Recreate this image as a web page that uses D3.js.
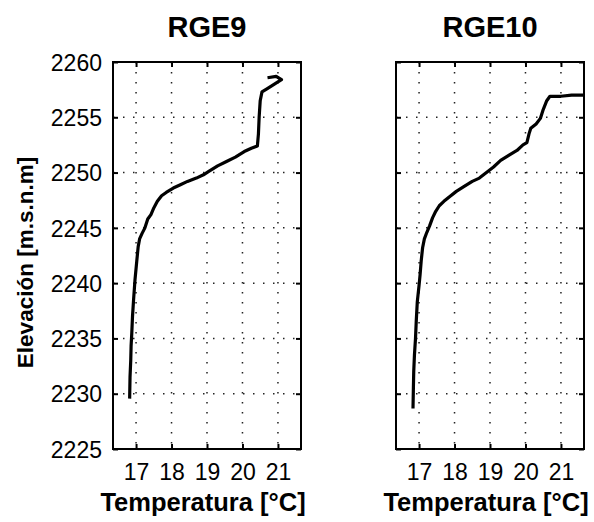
<!DOCTYPE html>
<html>
<head>
<meta charset="utf-8">
<script src="https://cdn.jsdelivr.net/npm/d3@7"></script>
<style>
  body { margin: 0; background: white; }
  text { font-family: "Liberation Sans", Arial, sans-serif; }
</style>
</head>
<body>
<div id="graf"></div>
<script>
// datos: [temperatura, elevacion]
const rge9 = [
  [16.82, 2229.7], [16.83, 2231.5], [16.85, 2233.0], [16.86, 2234.3],
  [16.88, 2235.5], [16.9, 2237.0], [16.93, 2238.5], [16.97, 2240.3],
  [17.02, 2242.0], [17.06, 2243.3], [17.1, 2244.0], [17.17, 2244.5],
  [17.25, 2245.0], [17.33, 2245.8], [17.42, 2246.2], [17.5, 2246.8],
  [17.6, 2247.4], [17.72, 2247.9], [17.85, 2248.2], [18.05, 2248.6],
  [18.25, 2248.9], [18.45, 2249.2], [18.7, 2249.5], [18.9, 2249.8],
  [19.05, 2250.1], [19.3, 2250.6], [19.55, 2251.0], [19.8, 2251.4],
  [20.05, 2251.9], [20.25, 2252.2], [20.42, 2252.4], [20.45, 2253.5],
  [20.47, 2255.0], [20.5, 2256.5], [20.55, 2257.3], [20.7, 2257.6],
  [20.9, 2258.0], [21.1, 2258.4], [20.95, 2258.7], [20.75, 2258.6],
]
const rge10 = [
  [16.83, 2228.8], [16.84, 2230.5], [16.85, 2232.0], [16.87, 2233.5],
  [16.9, 2235.0], [16.92, 2236.5], [16.95, 2238.3], [17.0, 2239.8],
  [17.03, 2240.8], [17.06, 2242.0], [17.1, 2243.2], [17.15, 2244.0],
  [17.22, 2244.6], [17.3, 2245.2], [17.38, 2245.9], [17.47, 2246.5],
  [17.57, 2247.0], [17.7, 2247.4], [17.85, 2247.8], [18.05, 2248.3],
  [18.25, 2248.7], [18.5, 2249.2], [18.7, 2249.5], [18.9, 2250.0],
  [19.1, 2250.5], [19.3, 2251.1], [19.55, 2251.6], [19.76, 2252.0],
  [19.93, 2252.5], [20.04, 2252.7], [20.1, 2253.5], [20.15, 2254.0],
  [20.3, 2254.4], [20.42, 2254.9], [20.5, 2255.7], [20.6, 2256.5],
  [20.69, 2256.9], [21.0, 2256.9], [21.3, 2257.0], [21.62, 2257.0],
]

const titulos = ["RGE9", "RGE10"]
const xTicks = [17, 18, 19, 20, 21]
const yTicks = [2225, 2230, 2235, 2240, 2245, 2250, 2255, 2260]
const xDominio = [16.35, 21.65]
const yDominio = [2225, 2260]

const anchoTotal = 594
const altoTotal = 522

const svg = d3
  .select("#graf")
  .append("svg")
  .attr("width", anchoTotal)
  .attr("height", altoTotal)

const panelTop = 62
const alto = 387
const ancho = 188
const panelLefts = [113, 396]

const x = d3.scaleLinear().domain(xDominio).range([0, ancho])
const y = d3.scaleLinear().domain(yDominio).range([alto, 0])

const linea = d3
  .line()
  .x((d) => x(d[0]))
  .y((d) => y(d[1]))

const dibujarPanel = (datos, titulo, left, conEtiquetaY) => {
  const g = svg.append("g").attr("transform", `translate(${left}, ${panelTop})`)

  // grilla punteada
  g.selectAll(".gx")
    .data(xTicks)
    .enter()
    .append("line")
    .attr("x1", (d) => x(d))
    .attr("x2", (d) => x(d))
    .attr("y1", 0)
    .attr("y2", alto)
    .attr("stroke", "#222")
    .attr("stroke-width", 1.5)
    .attr("stroke-dasharray", "1.5,8.5")
  g.selectAll(".gy")
    .data(yTicks.slice(1, -1))
    .enter()
    .append("line")
    .attr("x1", 0)
    .attr("x2", ancho)
    .attr("y1", (d) => y(d))
    .attr("y2", (d) => y(d))
    .attr("stroke", "#222")
    .attr("stroke-width", 1.5)
    .attr("stroke-dasharray", "1.5,8.5")

  g.append("defs")
    .append("clipPath")
    .attr("id", "clip-" + titulo)
    .append("rect")
    .attr("width", ancho)
    .attr("height", alto)

  g.append("path")
    .datum(datos)
    .attr("clip-path", `url(#clip-${titulo})`)
    .attr("d", linea)
    .attr("fill", "none")
    .attr("stroke", "black")
    .attr("stroke-width", 3.2)
    .attr("stroke-linejoin", "round")
    .attr("stroke-linecap", "square")

  const ejeX = g
    .append("g")
    .attr("transform", `translate(0, ${alto})`)
    .call(d3.axisBottom(x).tickValues(xTicks).tickSize(-5).tickPadding(15).tickFormat(d3.format("d")))
  g.append("g").call(d3.axisTop(x).tickValues(xTicks).tickSize(-5).tickFormat(""))
  const ejeY = g
    .append("g")
    .call(d3.axisLeft(y).tickValues(yTicks).tickSize(-5).tickPadding(11).tickFormat(d3.format("d")))
  g.append("g")
    .attr("transform", `translate(${ancho}, 0)`)
    .call(d3.axisRight(y).tickValues(yTicks).tickSize(-5).tickFormat(""))

  g.selectAll(".domain").remove()
  g.selectAll(".tick line").attr("stroke", "black").attr("stroke-width", 2)
  ejeX.selectAll("text").attr("font-size", 23).attr("fill", "black").attr("font-family", "Liberation Sans")
  ejeY.selectAll("text")
    .attr("font-size", 23)
    .attr("fill", "black")
    .attr("font-family", "Liberation Sans")
    .attr("dy", "0.36em")
  if (!conEtiquetaY) ejeY.selectAll("text").remove()

  g.append("rect")
    .attr("width", ancho)
    .attr("height", alto)
    .attr("fill", "none")
    .attr("stroke", "black")
    .attr("stroke-width", 2)

  g.append("text")
    .attr("x", ancho / 2)
    .attr("y", -25)
    .attr("text-anchor", "middle")
    .attr("font-size", 29)
    .attr("font-weight", "bold")
    .text(titulo)

  g.append("text")
    .attr("x", ancho / 2 - 4)
    .attr("y", 449 - panelTop + 62)
    .attr("text-anchor", "middle")
    .attr("font-size", 25.5)
    .attr("font-weight", "bold")
    .text("Temperatura [°C]")
}

dibujarPanel(rge9, titulos[0], panelLefts[0], true)
dibujarPanel(rge10, titulos[1], panelLefts[1], false)

svg
  .append("text")
  .attr("transform", `translate(33, ${panelTop + alto / 2 + 7}) rotate(-90)`)
  .attr("text-anchor", "middle")
  .attr("font-size", 22.5)
  .attr("font-weight", "bold")
  .text("Elevación [m.s.n.m]")
</script>
</body>
</html>
